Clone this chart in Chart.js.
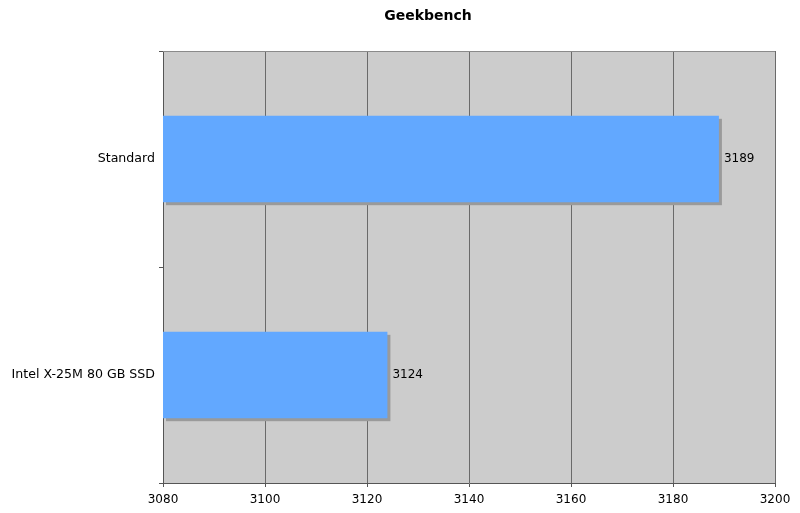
<!DOCTYPE html>
<html>
<head>
<meta charset="utf-8">
<script src="https://cdn.jsdelivr.net/npm/chart.js@4"></script>
<style>
  html, body { margin: 0; padding: 0; background: #fff; }
  #wrap { width: 800px; height: 513px; }
</style>
</head>
<body>
<div id="wrap"><canvas id="chart"></canvas></div>
<script>
/* ================= DATA ================= */
const chartTitle = "Geekbench";
const categories = ["Standard", "Intel X-25M 80 GB SSD"];
const scores = [3189, 3124];
const xTicks = [3080, 3100, 3120, 3140, 3160, 3180, 3200];

const FONT = "'DejaVu Sans', Verdana, sans-serif";

/* ================= PLUGINS ================= */
// grey plot background, top frame line, title
const plotBox = {
    id: "plotBox",
    beforeDraw(chart) {
        const { ctx, chartArea: a } = chart;
        ctx.save();
        ctx.fillStyle = "#cccccc";
        ctx.fillRect(a.left, a.top, a.right - a.left, a.bottom - a.top);
        ctx.restore();
    },
    afterDraw(chart) {
        const { ctx, chartArea: a } = chart;
        ctx.save();
        ctx.strokeStyle = "#8a8a8a";
        ctx.lineWidth = 1;
        ctx.beginPath();
        ctx.moveTo(a.left, a.top + 0.5);
        ctx.lineTo(a.right, a.top + 0.5);
        ctx.stroke();

        ctx.fillStyle = "#000";
        ctx.font = "bold 14px " + FONT;
        ctx.textAlign = "center";
        ctx.textBaseline = "middle";
        ctx.fillText(chartTitle, 428, 16);
        ctx.restore();
    }
};

// drop shadow under bars, value labels beside them
const barExtras = {
    id: "barExtras",
    beforeDatasetsDraw(chart) {
        const { ctx, chartArea: a } = chart;
        ctx.save();
        ctx.beginPath();
        ctx.rect(a.left, a.top, a.right - a.left, a.bottom - a.top);
        ctx.clip();
        ctx.fillStyle = "#9a9a9a";
        chart.getDatasetMeta(0).data.forEach(bar => {
            const h = bar.height;
            const left = Math.max(bar.base, a.left);
            ctx.fillRect(left + 3, bar.y - h / 2 + 3, bar.x - left, h);
        });
        ctx.restore();
    },
    afterDatasetsDraw(chart) {
        const { ctx } = chart;
        ctx.save();
        ctx.fillStyle = "#000";
        ctx.font = "12px " + FONT;
        ctx.textBaseline = "middle";
        ctx.textAlign = "left";
        chart.getDatasetMeta(0).data.forEach((bar, i) => {
            ctx.fillText(String(scores[i]), bar.x + 5, bar.y);
        });
        ctx.restore();
    }
};

/* ================= CHART ================= */
new Chart(document.getElementById("chart"), {
    type: "bar",
    data: {
        labels: categories,
        datasets: [{
            data: scores,
            backgroundColor: "#62a8ff",
            borderWidth: 0,
            categoryPercentage: 0.4,
            barPercentage: 1
        }]
    },
    options: {
        indexAxis: "y",
        responsive: true,
        maintainAspectRatio: false,
        animation: false,
        layout: { padding: { left: 0, right: 25, top: 51, bottom: 0 } },
        plugins: {
            legend: { display: false },
            tooltip: { enabled: false },
            title: { display: false }
        },
        scales: {
            x: {
                type: "linear",
                min: 3080,
                max: 3200,
                afterBuildTicks: s => { s.ticks = xTicks.map(v => ({ value: v })); },
                afterFit: s => { s.height = 30; },
                grid: {
                    color: "#6a6a6a",
                    lineWidth: 1,
                    tickLength: 4,
                    tickColor: "#555"
                },
                border: { color: "#555", width: 1 },
                ticks: {
                    color: "#000",
                    padding: 6,
                    maxRotation: 0,
                    font: { family: FONT, size: 12 },
                    callback: v => String(v)
                }
            },
            y: {
                afterFit: s => { s.width = 163; },
                grid: {
                    offset: true,
                    drawOnChartArea: false,
                    drawTicks: true,
                    tickLength: 4,
                    tickColor: "#555"
                },
                border: { color: "#555", width: 1 },
                ticks: {
                    color: "#000",
                    padding: 4,
                    font: { family: FONT, size: 12.6 }
                }
            }
        }
    },
    plugins: [plotBox, barExtras]
});
</script>
</body>
</html>
